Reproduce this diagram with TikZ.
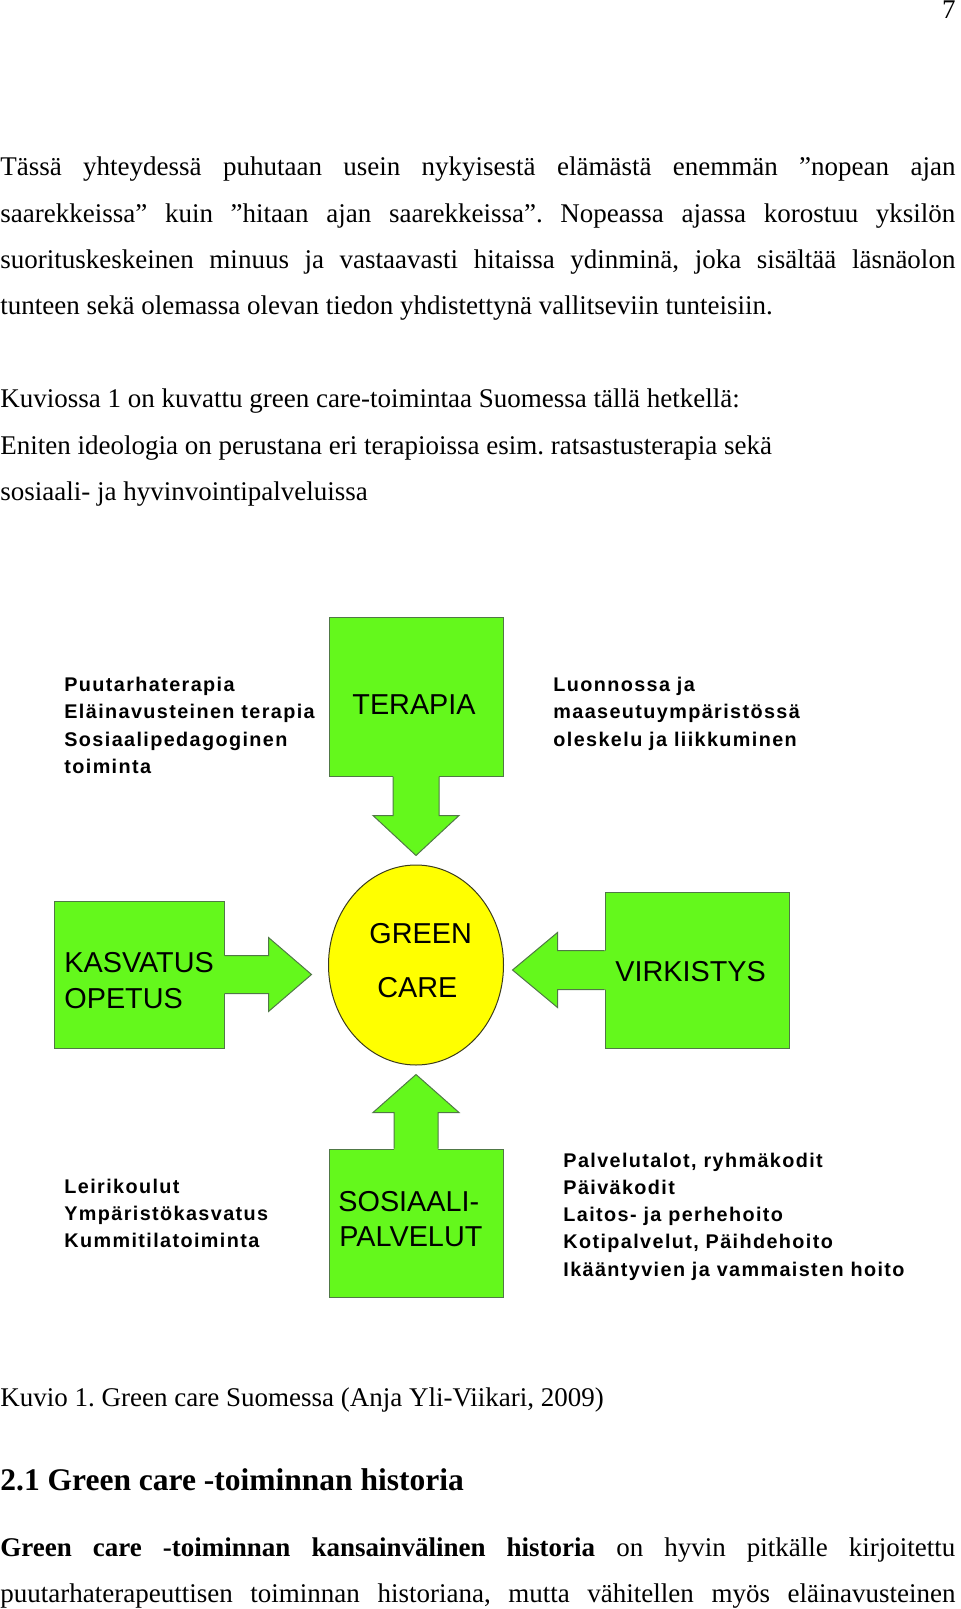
\documentclass[tikz,border=0pt]{standalone}
\usepackage{fontspec}
\setmainfont{Liberation Serif}
\newfontfamily\diagr{Liberation Sans}
\newfontfamily\diagb{Liberation Sans}[LetterSpace=7]
\usetikzlibrary{calc,shapes.geometric}
\definecolor{grn}{RGB}{100,248,28}
\definecolor{grnline}{RGB}{80,120,70}
\definecolor{ylw}{RGB}{255,255,0}
\definecolor{ylwline}{RGB}{60,60,30}
\frenchspacing
\newcommand\blockarrow[6]{%
  \begin{scope}[shift={(#1)},rotate=#2]
    \fill[grn] (-#5,-1.5) -- (-#5,#3) -- (-#6,#3) -- (0,#4) -- (#6,#3) -- (#5,#3) -- (#5,-1.5) -- cycle;
    \draw[arrline] (-#5,0) -- (-#5,#3) -- (-#6,#3) -- (0,#4) -- (#6,#3) -- (#5,#3) -- (#5,0);
  \end{scope}}
\begin{document}
\begin{tikzpicture}[x=0.5pt,y=-0.5pt,
  txt/.style={inner sep=0pt, anchor=base west, font=\fontsize{13.5}{16}\selectfont},
  box/.style={fill=grn, draw=grnline, line width=0.5pt, inner sep=0pt},
  arrline/.style={draw=grnline, line width=0.5pt, line join=miter},
  lbl/.style={inner sep=0pt, anchor=base west, font=\diagr\fontsize{14.4}{16}\selectfont},
  blist/.style={inner sep=0pt, anchor=base west, font=\diagb\bfseries\fontsize{9.9}{13.6}\selectfont}]
\useasboundingbox (0,0) rectangle (960,1609);

% page number
\node[txt, anchor=base east] (pg) at (956,19) {7};

% paragraph 1
\node[txt] (p1a) at (0,176) {\makebox[477.5pt][s]{Tässä yhteydessä puhutaan usein nykyisestä elämästä enemmän ”nopean ajan}};
\node[txt] (p1b) at (0,222.3) {\makebox[477.5pt][s]{saarekkeissa” kuin ”hitaan ajan saarekkeissa”. Nopeassa ajassa korostuu yksilön}};
\node[txt] (p1c) at (0,268.5) {\makebox[477.5pt][s]{suorituskeskeinen minuus ja vastaavasti hitaissa ydinminä, joka sisältää läsnäolon}};
\node[txt] (p1d) at (0,315) {tunteen sekä olemassa olevan tiedon yhdistettynä vallitseviin tunteisiin.};

% paragraph 2
\node[txt] (p2a) at (0,407.6) {Kuviossa 1 on kuvattu green care-toimintaa Suomessa tällä hetkellä:};
\node[txt] (p2b) at (0,454) {Eniten ideologia on perustana eri terapioissa esim. ratsastusterapia sekä};
\node[txt] (p2c) at (0,500.3) {sosiaali- ja hyvinvointipalveluissa};

% diagram boxes
\node[box, minimum width=87pt, minimum height=79.5pt] (ter) at (416,696.5) {};
\node[box, minimum width=85pt, minimum height=73.5pt] (kas) at (139,974.5) {};
\node[box, minimum width=92pt, minimum height=78pt] (vir) at (697,970) {};
\node[box, minimum width=87pt, minimum height=74pt] (sos) at (416,1223) {};
\node[ellipse, fill=ylw, draw=ylwline, line width=0.5pt, inner sep=0pt,
      minimum width=87.5pt, minimum height=100pt] (gc) at (416,965) {};

% block arrows
\blockarrow{ter.south}{0}{39}{79}{23}{43}
\blockarrow{sos.north}{180}{36}{74}{22}{43}
\blockarrow{kas.east}{90}{44}{87}{19}{37}
\blockarrow{vir.west}{-90}{47}{92}{19.5}{37.5}

% diagram labels
\node[lbl] (terT) at (352,714) {TERAPIA};
\node[lbl] (kasT) at (64,972) {KASVATUS};
\node[lbl] (opeT) at (64,1008) {OPETUS};
\node[lbl] (virT) at (615,981) {VIRKISTYS};
\node[lbl] (gcT1) at (369,943) {GREEN};
\node[lbl] (gcT2) at (377,997) {CARE};
\node[lbl] (sosT1) at (338,1211) {SOSIAALI-};
\node[lbl] (sosT2) at (339,1246) {PALVELUT};

% lists
\node[blist] (tl) at (64,691.7) {\vtop{\hbox{Puutarhaterapia}\hbox{Eläinavusteinen terapia}\hbox{Sosiaalipedagoginen}\hbox{toiminta}}};
\node[blist] (tr) at (553,691.7) {\vtop{\hbox{Luonnossa ja}\hbox{maaseutuympäristössä}\hbox{oleskelu ja liikkuminen}}};
\node[blist] (bl) at (64,1193.5) {\vtop{\hbox{Leirikoulut}\hbox{Ympäristökasvatus}\hbox{Kummitilatoiminta}}};
\node[blist] (br) at (563,1167.2) {\vtop{\hbox{Palvelutalot, ryhmäkodit}\hbox{Päiväkodit}\hbox{Laitos- ja perhehoito}\hbox{Kotipalvelut, Päihdehoito}\hbox{Ikääntyvien ja vammaisten hoito}}};

% caption, heading, last paragraph
\node[txt] (cap) at (0,1406.7) {Kuvio 1. Green care Suomessa (Anja Yli-Viikari, 2009)};
\node[txt, font=\bfseries\fontsize{15.75}{18}\selectfont] (hd) at (0,1490.7) {2.1 Green care -toiminnan historia};
\node[txt] (q1) at (0,1556) {\makebox[477.5pt][s]{\textbf{Green care -toiminnan kansainvälinen historia} on hyvin pitkälle kirjoitettu}};
\node[txt] (q2) at (0,1602) {\makebox[477.5pt][s]{puutarhaterapeuttisen toiminnan historiana, mutta vähitellen myös eläinavusteinen}};
\end{tikzpicture}
\end{document}
